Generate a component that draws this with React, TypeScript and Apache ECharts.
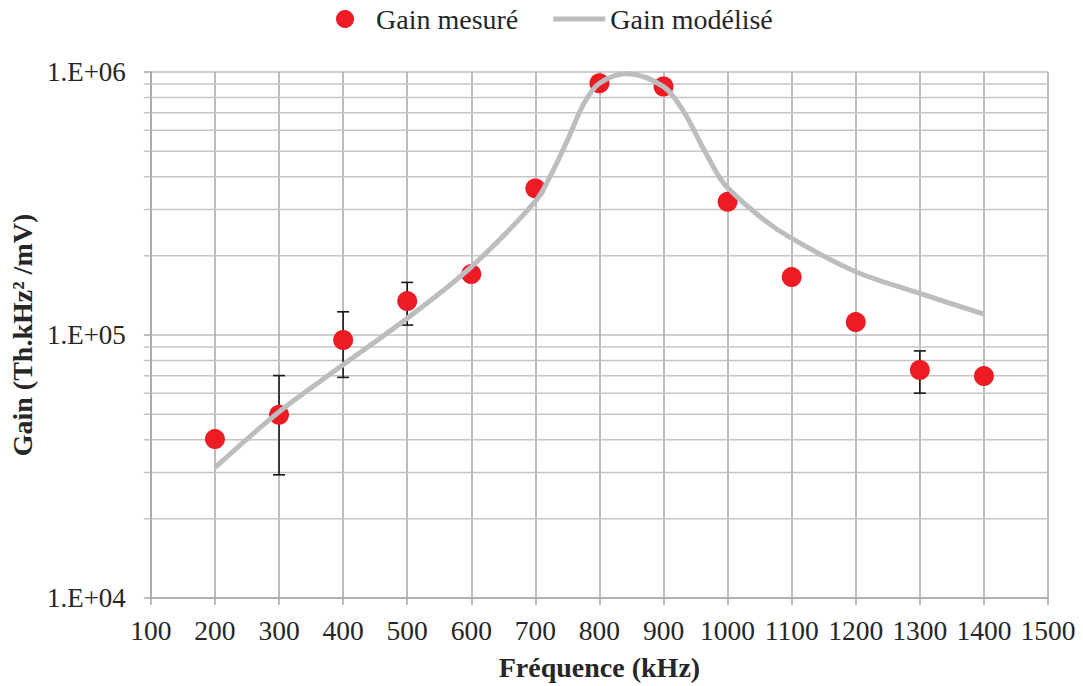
import React, { useEffect, useRef } from "react";
import * as echarts from "echarts";

// ---- data ----
const freqs = [200, 300, 400, 500, 600, 700, 800, 900, 1000, 1100, 1200, 1300, 1400];
const gainMeasured = [40200, 49700, 95700, 134600, 170400, 361000, 906000, 881000, 321000, 166000, 112000, 73600, 69800];
const errLow: (number | null)[] = [null, 29400, 69000, 109100, null, null, null, null, null, null, null, 60100, null];
const errHigh: (number | null)[] = [null, 70100, 122500, 158500, null, null, null, null, null, null, null, 87000, null];

const modelFreqs = [200, 300, 400, 500, 600, 700, 724, 750, 776, 800, 843, 900, 931, 958, 984, 1000, 1051, 1100, 1200, 1300, 1400];
const gainModel = [31300, 51000, 77000, 115700, 181600, 322000, 405000, 550000, 760000, 906000, 985000, 880000, 710000, 535000, 410000, 363000, 281000, 233000, 174000, 144000, 120000];

const minorTickValues = [20000, 30000, 40000, 50000, 60000, 70000, 80000, 90000, 200000, 300000, 400000, 500000, 600000, 700000, 800000, 900000];
const xTickMin = 100;
const xTickMax = 1500;
const seriesNames = ["Gain mesuré", "Gain modélisé"];

export default function App() {
  const ref = useRef<HTMLDivElement>(null);
  useEffect(() => {
    if (!ref.current) return;
    const chart = echarts.init(ref.current, null, { renderer: "svg" });
    const serif = "Liberation Serif";
    const errData = freqs
      .map((f, i) => (errLow[i] != null ? [f, errLow[i], errHigh[i]] : null))
      .filter((d) => d !== null);
    chart.setOption({
      animation: false,
      backgroundColor: "#ffffff",
      legend: {
        data: [
          { name: seriesNames[0], icon: "circle" },
          { name: seriesNames[1], icon: "path://M0,0H52V5H0Z" },
        ],
        left: 331,
        top: 0,
        itemWidth: 52,
        itemHeight: 18,
        itemGap: 35,
        textStyle: { fontFamily: serif, fontSize: 28, color: "#262626" },
      },
      grid: { left: 150, right: 35, top: 72, bottom: 87 },
      xAxis: {
        type: "value",
        min: xTickMin,
        max: xTickMax,
        interval: 100,
        name: "Fréquence (kHz)",
        nameLocation: "middle",
        nameGap: 55,
        nameTextStyle: { fontFamily: serif, fontSize: 28, fontWeight: "bold", color: "#262626" },
        axisLine: { show: true, lineStyle: { color: "#a6a6a6", width: 1.5 } },
        axisTick: { show: true, length: 7, lineStyle: { color: "#a6a6a6", width: 1.5 } },
        axisLabel: {
          margin: 18,
          fontFamily: serif,
          fontSize: 27.5,
          color: "#262626",
          formatter: (v: number) => String(v),
        },
        splitLine: { show: true, lineStyle: { color: "#a6a6a6", width: 1.5 } },
      },
      yAxis: {
        type: "log",
        logBase: 10,
        min: 10000,
        max: 1000000,
        name: "Gain (Th.kHz² /mV)",
        nameLocation: "middle",
        nameRotate: 90,
        nameGap: 112,
        nameTextStyle: { fontFamily: serif, fontSize: 28, fontWeight: "bold", color: "#262626" },
        axisLine: { show: true, lineStyle: { color: "#a6a6a6", width: 1.5 } },
        axisTick: { show: true, length: 7, lineStyle: { color: "#a6a6a6", width: 1.5 } },
        axisLabel: {
          margin: 25,
          fontFamily: serif,
          fontSize: 27,
          color: "#262626",
          formatter: (v: number) => "1.E+0" + Math.round(Math.log10(v)),
        },
        splitLine: { show: true, lineStyle: { color: "#bfbfbf", width: 1.5 } },
      },
      series: [
        {
          type: "custom",
          name: "minorGrid",
          silent: true,
          clip: false,
          z: 0,
          encode: { x: 0, y: 1 },
          data: minorTickValues.map((v) => [xTickMin, v]),
          renderItem: (params: any, api: any) => {
            const v = api.value(1);
            const p1 = api.coord([xTickMin, v]);
            const p2 = api.coord([xTickMax, v]);
            return {
              type: "line",
              shape: { x1: p1[0] - 7, y1: p1[1], x2: p2[0], y2: p2[1] },
              style: { stroke: "#c4c4c4", lineWidth: 1.5 },
            };
          },
        },
        {
          type: "custom",
          name: "errorBars",
          silent: true,
          z: 2,
          encode: { x: 0, y: [1, 2] },
          data: errData,
          renderItem: (params: any, api: any) => {
            const x = api.value(0);
            const lo = api.coord([x, api.value(1)]);
            const hi = api.coord([x, api.value(2)]);
            const st = { stroke: "#1a1a1a", lineWidth: 1.6 };
            return {
              type: "group",
              children: [
                { type: "line", shape: { x1: hi[0], y1: hi[1], x2: lo[0], y2: lo[1] }, style: st },
                { type: "line", shape: { x1: hi[0] - 6, y1: hi[1], x2: hi[0] + 6, y2: hi[1] }, style: st },
                { type: "line", shape: { x1: lo[0] - 6, y1: lo[1], x2: lo[0] + 6, y2: lo[1] }, style: st },
              ],
            };
          },
        },
        {
          type: "scatter",
          name: seriesNames[0],
          z: 3,
          symbol: "circle",
          symbolSize: 20,
          itemStyle: { color: "#ED1C24", opacity: 1 },
          data: freqs.map((f, i) => [f, gainMeasured[i]]),
        },
        {
          type: "line",
          name: seriesNames[1],
          z: 4,
          smooth: 0.35,
          symbol: "none",
          showSymbol: false,
          lineStyle: { color: "#bdbdc0", width: 5 },
          itemStyle: { color: "#bdbdc0" },
          data: modelFreqs.map((f, i) => [f, gainModel[i]]),
        },
      ],
    });
    return () => chart.dispose();
  }, []);
  return <div ref={ref} style={{ position: "absolute", left: 0, top: 0, width: 1083, height: 686 }} />;
}
